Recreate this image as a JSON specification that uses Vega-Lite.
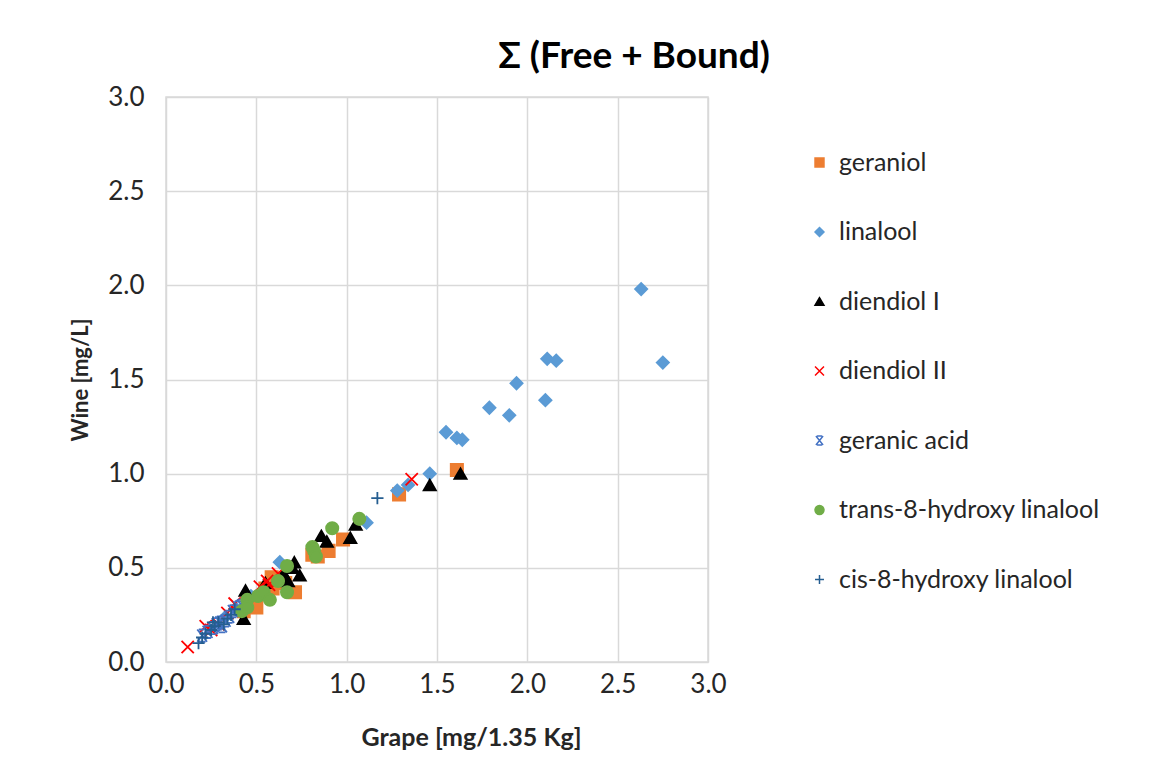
{
  "$schema": "https://vega.github.io/schema/vega-lite/v6.json",
  "autosize": "none",
  "width": 542,
  "height": 565,
  "padding": {"left": 166, "top": 97, "right": 442, "bottom": 103},
  "background": "white",
  "title": {
    "text": "Σ (Free + Bound)",
    "font": "Lato",
    "fontSize": 37,
    "fontWeight": "bold",
    "color": "#000000",
    "anchor": "middle",
    "dx": 197,
    "offset": 8
  },
  "data": {
    "values": [
      {"series": "geraniol", "x": 0.43, "y": 0.27},
      {"series": "geraniol", "x": 0.50, "y": 0.29},
      {"series": "geraniol", "x": 0.55, "y": 0.39},
      {"series": "geraniol", "x": 0.585, "y": 0.45},
      {"series": "geraniol", "x": 0.59, "y": 0.39},
      {"series": "geraniol", "x": 0.66, "y": 0.42},
      {"series": "geraniol", "x": 0.714, "y": 0.37},
      {"series": "geraniol", "x": 0.81, "y": 0.57},
      {"series": "geraniol", "x": 0.84, "y": 0.56},
      {"series": "geraniol", "x": 0.90, "y": 0.59},
      {"series": "geraniol", "x": 0.98, "y": 0.65},
      {"series": "geraniol", "x": 1.29, "y": 0.89},
      {"series": "geraniol", "x": 1.61, "y": 1.02},
      {"series": "linalool", "x": 0.33, "y": 0.24},
      {"series": "linalool", "x": 0.39, "y": 0.28},
      {"series": "linalool", "x": 0.47, "y": 0.35},
      {"series": "linalool", "x": 0.63, "y": 0.53},
      {"series": "linalool", "x": 1.11, "y": 0.74},
      {"series": "linalool", "x": 1.28, "y": 0.91},
      {"series": "linalool", "x": 1.34, "y": 0.94},
      {"series": "linalool", "x": 1.46, "y": 1.0},
      {"series": "linalool", "x": 1.55, "y": 1.22},
      {"series": "linalool", "x": 1.61, "y": 1.19},
      {"series": "linalool", "x": 1.64, "y": 1.18},
      {"series": "linalool", "x": 1.79, "y": 1.35},
      {"series": "linalool", "x": 1.90, "y": 1.31},
      {"series": "linalool", "x": 1.94, "y": 1.48},
      {"series": "linalool", "x": 2.10, "y": 1.39},
      {"series": "linalool", "x": 2.11, "y": 1.61},
      {"series": "linalool", "x": 2.16, "y": 1.60},
      {"series": "linalool", "x": 2.63, "y": 1.98},
      {"series": "linalool", "x": 2.75, "y": 1.59},
      {"series": "diendiol I", "x": 0.43, "y": 0.23},
      {"series": "diendiol I", "x": 0.44, "y": 0.38},
      {"series": "diendiol I", "x": 0.55, "y": 0.42},
      {"series": "diendiol I", "x": 0.65, "y": 0.47},
      {"series": "diendiol I", "x": 0.675, "y": 0.43},
      {"series": "diendiol I", "x": 0.70, "y": 0.50},
      {"series": "diendiol I", "x": 0.71, "y": 0.53},
      {"series": "diendiol I", "x": 0.74, "y": 0.46},
      {"series": "diendiol I", "x": 0.86, "y": 0.67},
      {"series": "diendiol I", "x": 0.89, "y": 0.64},
      {"series": "diendiol I", "x": 1.02, "y": 0.66},
      {"series": "diendiol I", "x": 1.05, "y": 0.73},
      {"series": "diendiol I", "x": 1.46, "y": 0.94},
      {"series": "diendiol I", "x": 1.63, "y": 1.0},
      {"series": "diendiol II", "x": 0.12, "y": 0.08},
      {"series": "diendiol II", "x": 0.22, "y": 0.19},
      {"series": "diendiol II", "x": 0.25, "y": 0.17},
      {"series": "diendiol II", "x": 0.29, "y": 0.2},
      {"series": "diendiol II", "x": 0.34, "y": 0.26},
      {"series": "diendiol II", "x": 0.38, "y": 0.31},
      {"series": "diendiol II", "x": 0.52, "y": 0.40},
      {"series": "diendiol II", "x": 0.56, "y": 0.43},
      {"series": "diendiol II", "x": 0.57, "y": 0.41},
      {"series": "diendiol II", "x": 0.62, "y": 0.47},
      {"series": "diendiol II", "x": 1.36, "y": 0.97},
      {"series": "geranic acid", "x": 0.20, "y": 0.14},
      {"series": "geranic acid", "x": 0.23, "y": 0.16},
      {"series": "geranic acid", "x": 0.26, "y": 0.18},
      {"series": "geranic acid", "x": 0.28, "y": 0.2},
      {"series": "geranic acid", "x": 0.30, "y": 0.21},
      {"series": "geranic acid", "x": 0.31, "y": 0.19},
      {"series": "geranic acid", "x": 0.33, "y": 0.22},
      {"series": "geranic acid", "x": 0.35, "y": 0.24},
      {"series": "geranic acid", "x": 0.37, "y": 0.27},
      {"series": "geranic acid", "x": 0.40, "y": 0.29},
      {"series": "geranic acid", "x": 0.42, "y": 0.30},
      {"series": "trans-8-hydroxy linalool", "x": 0.42, "y": 0.27},
      {"series": "trans-8-hydroxy linalool", "x": 0.45, "y": 0.33},
      {"series": "trans-8-hydroxy linalool", "x": 0.45, "y": 0.29},
      {"series": "trans-8-hydroxy linalool", "x": 0.51, "y": 0.35},
      {"series": "trans-8-hydroxy linalool", "x": 0.54, "y": 0.37},
      {"series": "trans-8-hydroxy linalool", "x": 0.575, "y": 0.33},
      {"series": "trans-8-hydroxy linalool", "x": 0.62, "y": 0.43},
      {"series": "trans-8-hydroxy linalool", "x": 0.67, "y": 0.37},
      {"series": "trans-8-hydroxy linalool", "x": 0.67, "y": 0.51},
      {"series": "trans-8-hydroxy linalool", "x": 0.81, "y": 0.61},
      {"series": "trans-8-hydroxy linalool", "x": 0.82, "y": 0.59},
      {"series": "trans-8-hydroxy linalool", "x": 0.83, "y": 0.56},
      {"series": "trans-8-hydroxy linalool", "x": 0.92, "y": 0.71},
      {"series": "trans-8-hydroxy linalool", "x": 1.07, "y": 0.76},
      {"series": "cis-8-hydroxy linalool", "x": 0.18, "y": 0.10},
      {"series": "cis-8-hydroxy linalool", "x": 0.20, "y": 0.13},
      {"series": "cis-8-hydroxy linalool", "x": 0.22, "y": 0.15},
      {"series": "cis-8-hydroxy linalool", "x": 0.25, "y": 0.17},
      {"series": "cis-8-hydroxy linalool", "x": 0.26, "y": 0.21},
      {"series": "cis-8-hydroxy linalool", "x": 0.27, "y": 0.19},
      {"series": "cis-8-hydroxy linalool", "x": 0.29, "y": 0.21},
      {"series": "cis-8-hydroxy linalool", "x": 0.32, "y": 0.20},
      {"series": "cis-8-hydroxy linalool", "x": 0.34, "y": 0.23},
      {"series": "cis-8-hydroxy linalool", "x": 0.36, "y": 0.25},
      {"series": "cis-8-hydroxy linalool", "x": 0.38, "y": 0.28},
      {"series": "cis-8-hydroxy linalool", "x": 1.17, "y": 0.87}
    ]
  },
  "mark": {"type": "point", "filled": true, "opacity": 1, "size": 150, "strokeWidth": 1.8},
  "encoding": {
    "x": {
      "field": "x", "type": "quantitative",
      "scale": {"domain": [0, 3], "nice": false, "zero": false},
      "axis": {
        "title": "Grape [mg/1.35 Kg]",
        "values": [0, 0.5, 1, 1.5, 2, 2.5, 3],
        "format": ".1f",
        "grid": true, "gridColor": "#d9d9d9", "gridWidth": 1.5,
        "domain": false, "ticks": false,
        "labelFont": "Lato", "labelFontSize": 26, "labelColor": "#262626", "labelPadding": 9,
        "labelFlush": false,
        "titleFont": "Lato", "titleFontSize": 25, "titleFontWeight": "bold", "titleColor": "#262626",
        "titlePadding": 28, "titleX": 305
      }
    },
    "y": {
      "field": "y", "type": "quantitative",
      "scale": {"domain": [0, 3], "nice": false, "zero": false},
      "axis": {
        "title": "Wine [mg/L]",
        "values": [0, 0.5, 1, 1.5, 2, 2.5, 3],
        "format": ".1f",
        "grid": true, "gridColor": "#d9d9d9", "gridWidth": 1.5,
        "domain": false, "ticks": false,
        "labelFont": "Lato", "labelFontSize": 26, "labelColor": "#262626", "labelPadding": 22,
        "labelFlush": false,
        "titleFont": "Lato", "titleFontSize": 22, "titleFontWeight": "bold", "titleColor": "#262626",
        "titlePadding": 15
      }
    },
    "color": {
      "field": "series", "type": "nominal",
      "scale": {
        "domain": ["geraniol", "linalool", "diendiol I", "diendiol II", "geranic acid", "trans-8-hydroxy linalool", "cis-8-hydroxy linalool"],
        "range": ["#ED7D31", "#5B9BD5", "#000000", "transparent", "transparent", "#70AD47", "transparent"]
      },
      "legend": {
        "title": null, "orient": "none", "legendX": 641, "legendY": 53,
        "labelFont": "Lato", "labelFontSize": 25, "labelColor": "#262626", "labelLimit": 0,
        "symbolSize": 80, "rowPadding": 43.5, "labelOffset": 7, "padding": 0
      }
    },
    "stroke": {
      "field": "series", "type": "nominal",
      "scale": {
        "domain": ["geraniol", "linalool", "diendiol I", "diendiol II", "geranic acid", "trans-8-hydroxy linalool", "cis-8-hydroxy linalool"],
        "range": ["#ED7D31", "#5B9BD5", "#000000", "#FF0000", "#4472C4", "#70AD47", "#255E91"]
      },
      "legend": {
        "title": null, "orient": "none", "legendX": 641, "legendY": 53,
        "labelFont": "Lato", "labelFontSize": 25, "labelColor": "#262626", "labelLimit": 0,
        "symbolSize": 80, "rowPadding": 43.5, "labelOffset": 7, "padding": 0
      }
    },
    "shape": {
      "field": "series", "type": "nominal",
      "scale": {
        "domain": ["geraniol", "linalool", "diendiol I", "diendiol II", "geranic acid", "trans-8-hydroxy linalool", "cis-8-hydroxy linalool"],
        "range": ["square", "diamond", "triangle-up", "M-1,-1L1,1M-1,1L1,-1", "M-0.8,-1L0.8,1M-0.8,1L0.8,-1M-0.55,-1L0.55,-1M-0.55,1L0.55,1", "circle", "M-1,0L1,0M0,-1L0,1"]
      },
      "legend": {
        "title": null, "orient": "none", "legendX": 641, "legendY": 53,
        "labelFont": "Lato", "labelFontSize": 25, "labelColor": "#262626", "labelLimit": 0,
        "symbolSize": 80, "rowPadding": 43.5, "labelOffset": 7, "padding": 0
      }
    }
  },
  "config": {
    "view": {"stroke": "#d9d9d9", "strokeWidth": 1.5},
    "font": "Lato"
  }
}
